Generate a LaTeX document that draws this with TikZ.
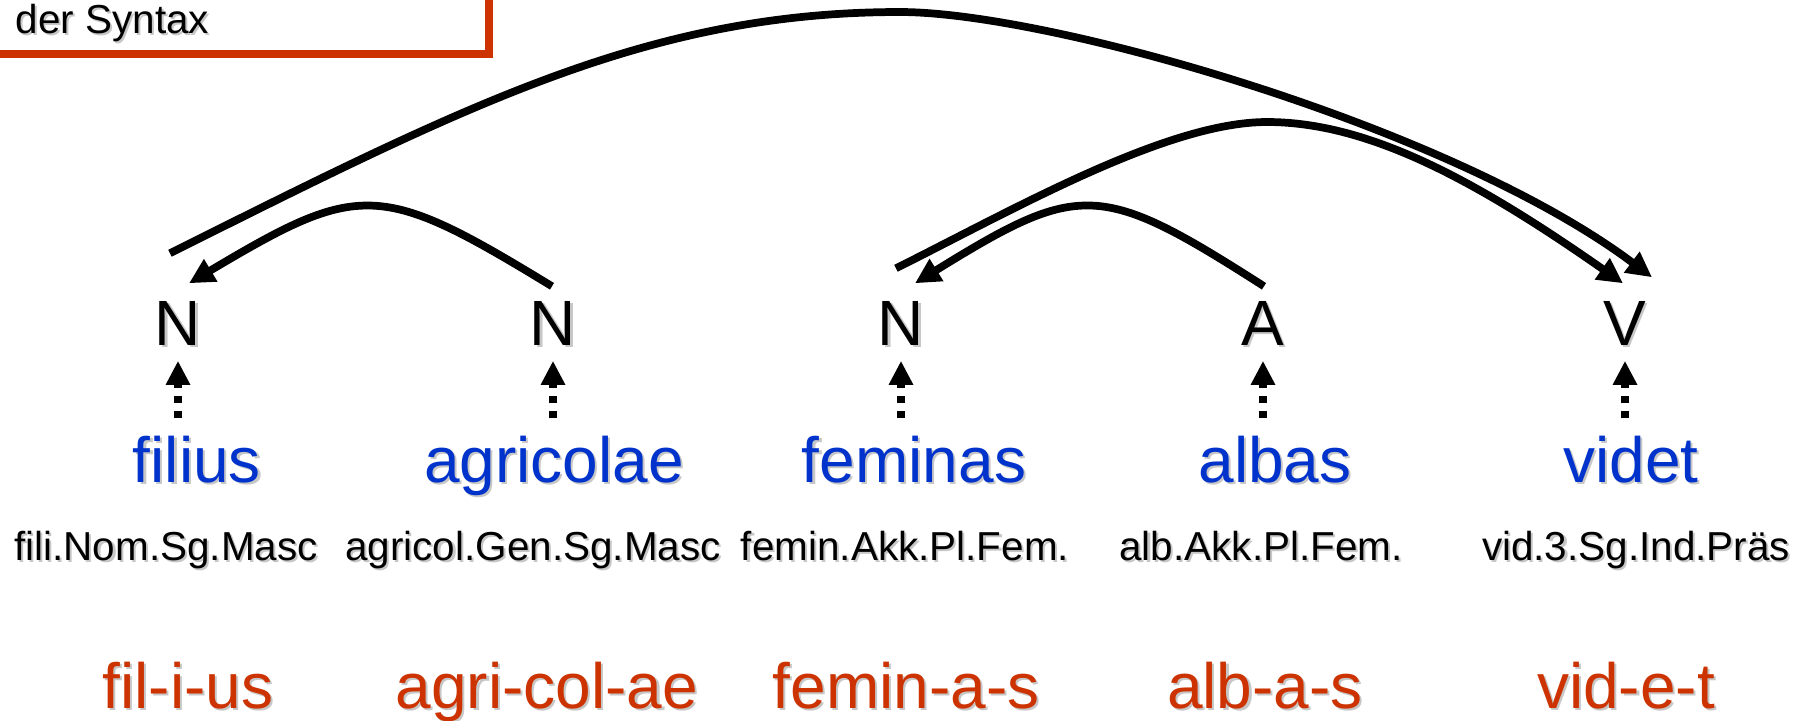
\documentclass[tikz,border=0pt]{standalone}
\usepackage{fontspec}
\setmainfont{Liberation Sans}
\usetikzlibrary{arrows.meta,positioning}
\definecolor{wordblue}{HTML}{0033CC}
\definecolor{morphred}{HTML}{CC3300}
\newcommand{\txtshadow}[1]{\makebox[0pt][l]{\hspace{0.6pt}\raisebox{-0.6pt}{\color{black!22}#1}}#1}

\begin{document}
\begin{tikzpicture}[x=0.01cm, y=-0.01cm,
  cat/.style={font=\fontsize{18.2}{20}\selectfont, inner sep=0pt, anchor=base},
  word/.style={cat, text=wordblue},
  gloss/.style={font=\fontsize{11.5}{14}\selectfont, inner sep=0pt, anchor=base},
  morph/.style={cat, text=morphred},
  link/.style={line width=2.2pt, -{Triangle[length=7.2pt,width=7pt]}},
  dotarr/.style={line width=2pt, dash pattern=on 2pt off 2.3pt,
    -{Triangle[length=6.8pt,width=6.5pt]}, shorten <=4.8pt, shorten >=3.7pt}]
  \clip (0,0) rectangle (1814,720);
  % box at the top
  \draw[morphred, line width=2.3pt] (-30,-30) rectangle (489,54);
  \node (title) [gloss, anchor=base west] at (15,33) {\txtshadow{der Syntax}};
  % categories
  \node (n1) [cat] at (178,345) {\txtshadow{N}};
  \node (n2) [cat] at (553,345) {\txtshadow{N}};
  \node (n3) [cat] at (901,345) {\txtshadow{N}};
  \node (a)  [cat] at (1263,345) {\txtshadow{A}};
  \node (v)  [cat] at (1625,345) {\txtshadow{V}};
  % word forms
  \node (w1) [word] at (197,482) {\txtshadow{filius}};
  \node (w2) [word] at (554,482) {\txtshadow{agricolae}};
  \node (w3) [word] at (914,482) {\txtshadow{feminas}};
  \node (w4) [word] at (1275,482) {\txtshadow{albas}};
  \node (w5) [word] at (1631,482) {\txtshadow{videt}};
  % glosses
  \node (g1) [gloss] at (166,560) {\txtshadow{fili.Nom.Sg.Masc}};
  \node (g2) [gloss] at (533,560) {\txtshadow{agricol.Gen.Sg.Masc}};
  \node (g3) [gloss] at (905,560) {\txtshadow{femin.Akk.Pl.Fem.}};
  \node (g4) [gloss] at (1261,560) {\txtshadow{alb.Akk.Pl.Fem.}};
  \node (g5) [gloss] at (1636,560) {\txtshadow{vid.3.Sg.Ind.Präs}};
  % morph segmentation
  \node (m1) [morph] at (188,708) {\txtshadow{fil-i-us}};
  \node (m2) [morph] at (547,708) {\txtshadow{agri-col-ae}};
  \node (m3) [morph] at (906,708) {\txtshadow{femin-a-s}};
  \node (m4) [morph] at (1265,708) {\txtshadow{alb-a-s}};
  \node (m5) [morph] at (1626,708) {\txtshadow{vid-e-t}};
  % word -> category
  \foreach \c/\w in {n1/w1,n2/w2,n3/w3,a/w4,v/w5}
    \draw[dotarr] (\c.south |- \w.north) -- (\c.south);
  % dependencies
  \coordinate (topA) at (900,12);
  \coordinate (topB) at (1267,122);
  \draw[link] ([shift={(-1,-14)}]n2.north) .. controls +(-172,-105) and +(171,-102)
    .. ([shift={(11,-17)}]n1.north);
  \draw[link] ([shift={(1,-14)}]a.north) .. controls +(-164,-105) and +(165,-102)
    .. ([shift={(14,-17)}]n3.north);
  \draw[link] ([shift={(-8,-47)}]n1.north) .. controls +(300,-150) and +(-250,0) .. (topA)
    .. controls +(150,0) and +(-200,-150) .. ([shift={(27,-23)}]v.north);
  \draw[link] ([shift={(-5,-32)}]n3.north) .. controls +(120,-60) and +(-100,0) .. (topB)
    .. controls +(100,0) and +(-150,-105) .. ([shift={(-2,-17)}]v.north);
\end{tikzpicture}
\end{document}
